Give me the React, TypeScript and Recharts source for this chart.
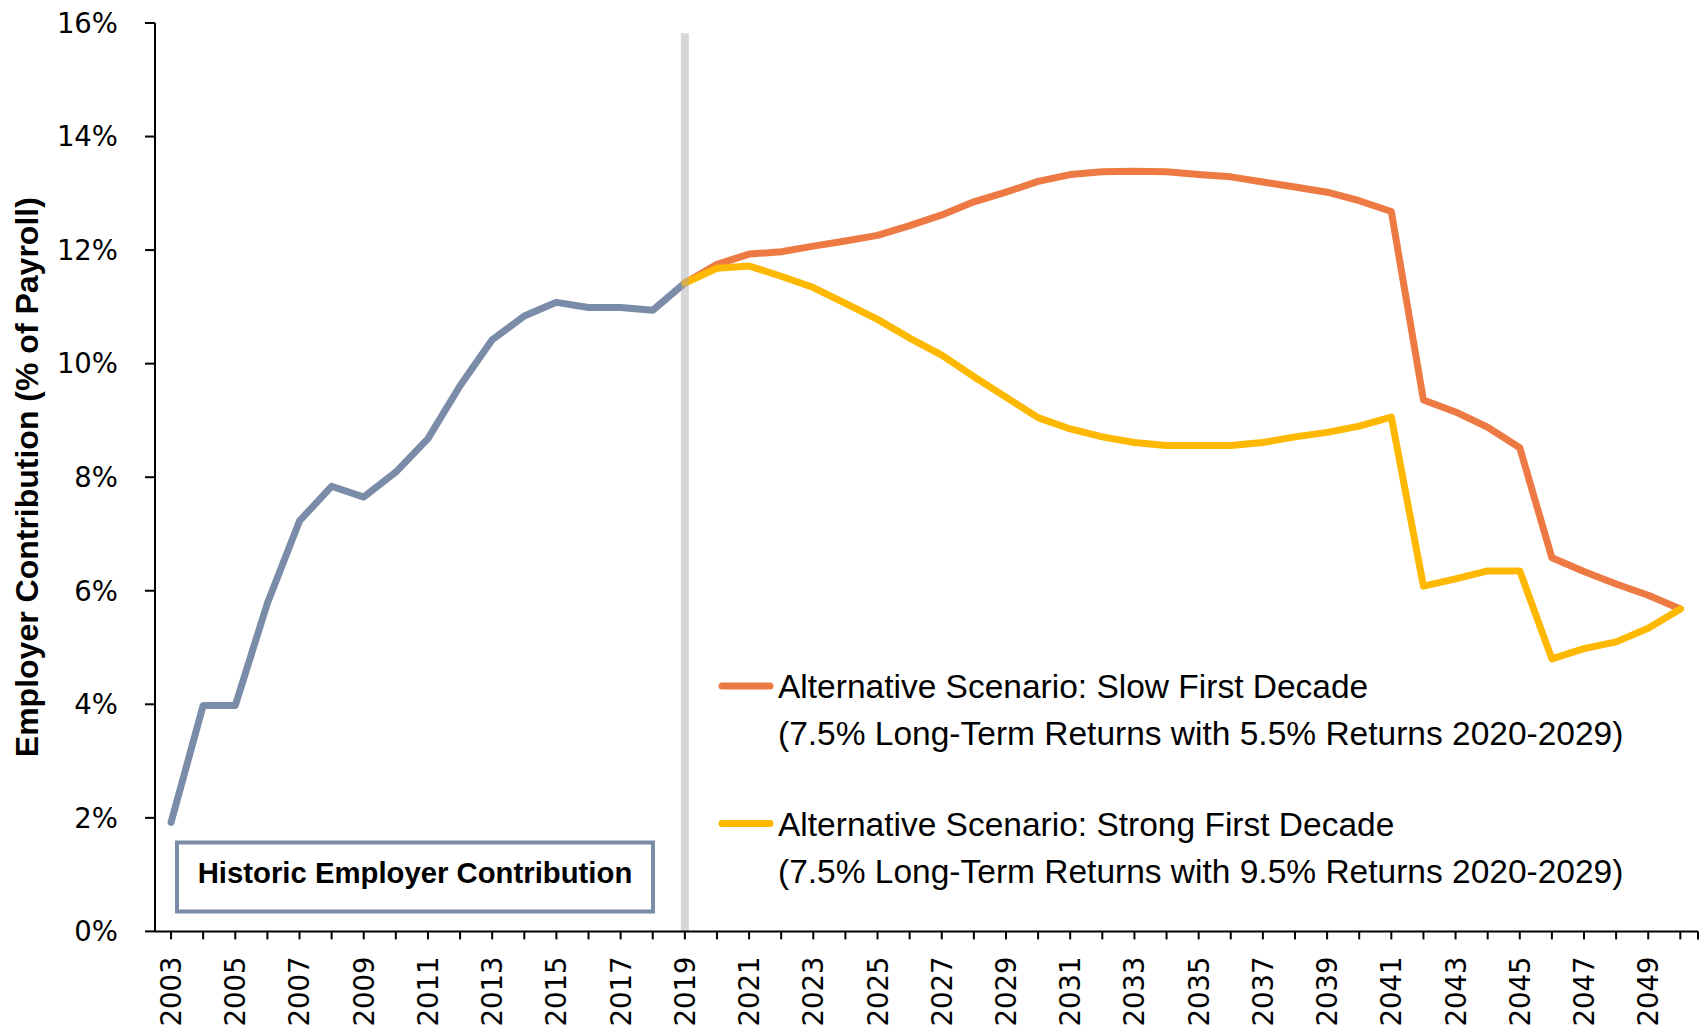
import React from 'react';
import { LineChart, Line, XAxis, YAxis, ReferenceLine, Legend } from 'recharts';

// ---- data ----
const years = [
  2003, 2004, 2005, 2006, 2007, 2008, 2009, 2010, 2011, 2012, 2013, 2014, 2015, 2016, 2017, 2018,
  2019, 2020, 2021, 2022, 2023, 2024, 2025, 2026, 2027, 2028, 2029, 2030, 2031, 2032, 2033, 2034,
  2035, 2036, 2037, 2038, 2039, 2040, 2041, 2042, 2043, 2044, 2045, 2046, 2047, 2048, 2049, 2050,
];

// 2003 - 2019
const historic = [1.92, 3.98, 3.98, 5.78, 7.23, 7.84, 7.65, 8.09, 8.68, 9.61, 10.42, 10.84, 11.08, 10.99, 10.99, 10.94, 11.42];

// 2019 - 2050
const slowFirstDecade = [
  11.42, 11.75, 11.93, 11.97, 12.07, 12.16, 12.26, 12.43, 12.62, 12.85, 13.02, 13.21, 13.33, 13.38, 13.39, 13.38,
  13.33, 13.29, 13.2, 13.11, 13.02, 12.87, 12.68, 9.36, 9.15, 8.88, 8.52, 6.58, 6.34, 6.12, 5.92, 5.68,
];
const strongFirstDecade = [
  11.42, 11.68, 11.72, 11.54, 11.34, 11.06, 10.78, 10.45, 10.15, 9.77, 9.41, 9.05, 8.85, 8.71, 8.61, 8.56,
  8.56, 8.56, 8.61, 8.71, 8.79, 8.9, 9.06, 6.08, 6.21, 6.35, 6.35, 4.8, 4.98, 5.1, 5.34, 5.68,
];

const projectionStartYear = 2019;
const historicLabel = 'Historic Employer Contribution';
const yAxisTitle = 'Employer Contribution (% of Payroll)';
const yTicks = [0, 2, 4, 6, 8, 10, 12, 14, 16];
const xLabelYears = [2003, 2005, 2007, 2009, 2011, 2013, 2015, 2017, 2019, 2021, 2023, 2025, 2027, 2029, 2031, 2033, 2035, 2037, 2039, 2041, 2043, 2045, 2047, 2049];
const xDomain: [number, number] = [2002.5, 2050.55];
const xTicks = [...years, xDomain[1]];

const seriesNames = {
  historic: 'Historic Employer Contribution',
  slow: 'Alternative Scenario: Slow First Decade',
  strong: 'Alternative Scenario: Strong First Decade',
};
const seriesSubtitles: Record<string, string> = {
  slow: '(7.5% Long-Term Returns with 5.5% Returns 2020-2029)',
  strong: '(7.5% Long-Term Returns with 9.5% Returns 2020-2029)',
};
const colors = {
  historic: '#7A8CA8',
  slow: '#EE7A43',
  strong: '#FFB800',
  divider: '#A6A6A6',
};

const data = years.map((year, i) => {
  const p = i - (projectionStartYear - years[0]);
  return {
    year,
    historic: i < historic.length ? historic[i] : null,
    slow: p >= 0 ? slowFirstDecade[p] : null,
    strong: p >= 0 ? strongFirstDecade[p] : null,
  };
});

const W = 1708;
const H = 1030;
const FONT_TICK = '"DejaVu Sans", Verdana, sans-serif';
const FONT_TEXT = '"Liberation Sans", Arial, sans-serif';
const LINE_W = 7;

const XTick = (props: any) => {
  const { x, y, payload } = props;
  if (!xLabelYears.includes(payload.value)) return null;
  return (
    <text
      x={x}
      y={y}
      transform={`rotate(-90, ${x}, ${y})`}
      textAnchor="end"
      dominantBaseline="central"
      fontSize={27.5}
      fontFamily={FONT_TICK}
      fill="#000"
    >
      {payload.value}
    </text>
  );
};

const YTitle = (props: any) => {
  const vb = props.viewBox || {};
  const cy = (vb.y ?? 23) + (vb.height ?? 908) / 2;
  const cx = 27.5;
  return (
    <text
      x={cx}
      y={cy}
      transform={`rotate(-90, ${cx}, ${cy})`}
      textAnchor="middle"
      dominantBaseline="central"
      fontSize={32}
      fontWeight="bold"
      fontFamily={FONT_TEXT}
      fill="#000"
    >
      {yAxisTitle}
    </text>
  );
};

const legendRows = [686, 823.5];

const Overlay = (props: any) => {
  const payload = (props.payload || []).filter((p: any) => p.dataKey === 'slow' || p.dataKey === 'strong');
  return (
    <svg width={W} height={H} style={{ position: 'absolute', left: 0, top: 0, overflow: 'visible' }}>
      {payload.map((p: any, i: number) => {
        const cy = legendRows[i];
        return (
          <g key={p.dataKey}>
            <line x1={722} x2={770} y1={cy} y2={cy} stroke={p.color} strokeWidth={LINE_W} strokeLinecap="round" />
            <text x={778} y={cy + 12} fontSize={33.5} fontFamily={FONT_TEXT} fill="#000">
              {p.value}
            </text>
            <text x={778} y={cy + 59} fontSize={33.5} fontFamily={FONT_TEXT} fill="#000">
              {seriesSubtitles[p.dataKey]}
            </text>
          </g>
        );
      })}
      <rect x={177} y={842.5} width={476} height={69} fill="#fff" stroke={colors.historic} strokeWidth={4} />
      <text x={415} y={883} textAnchor="middle" fontSize={29.3} fontWeight="bold" fontFamily={FONT_TEXT} fill="#000">
        {historicLabel}
      </text>
    </svg>
  );
};

export default function App() {
  return (
    <div style={{ position: 'absolute', left: 0, top: 0, width: W, height: H, background: '#fff' }}>
      <LineChart width={W} height={H} data={data} margin={{ top: 23, right: 10, bottom: 8.6, left: 0 }}>
        <XAxis
          dataKey="year"
          type="number"
          domain={xDomain}
          ticks={xTicks}
          interval={0}
          allowDataOverflow
          height={90}
          tickSize={8}
          tickMargin={17}
          axisLine={{ stroke: '#000', strokeWidth: 2 }}
          tickLine={{ stroke: '#000', strokeWidth: 2 }}
          tick={<XTick />}
        />
        <YAxis
          type="number"
          domain={[0, 16]}
          ticks={yTicks}
          interval={0}
          width={155}
          tickSize={10}
          tickMargin={27}
          tickFormatter={(v: number) => `${v}%`}
          axisLine={{ stroke: '#000', strokeWidth: 2 }}
          tickLine={{ stroke: '#000', strokeWidth: 2 }}
          tick={{ fontSize: 27.5, fontFamily: FONT_TICK, fill: '#000' }}
          label={<YTitle />}
        />
        <Line
          dataKey="historic"
          name={seriesNames.historic}
          stroke={colors.historic}
          strokeWidth={LINE_W}
          dot={false}
          activeDot={false}
          legendType="none"
          strokeLinejoin="round"
          strokeLinecap="round"
          isAnimationActive={false}
        />
        <Line
          dataKey="slow"
          name={seriesNames.slow}
          stroke={colors.slow}
          strokeWidth={LINE_W}
          dot={false}
          activeDot={false}
          strokeLinejoin="round"
          strokeLinecap="round"
          isAnimationActive={false}
        />
        <Line
          dataKey="strong"
          name={seriesNames.strong}
          stroke={colors.strong}
          strokeWidth={LINE_W}
          dot={false}
          activeDot={false}
          strokeLinejoin="round"
          strokeLinecap="round"
          isAnimationActive={false}
        />
        <ReferenceLine
          segment={[{ x: projectionStartYear, y: 0 }, { x: projectionStartYear, y: 15.82 }]}
          stroke={colors.divider}
          strokeOpacity={0.45}
          strokeWidth={8}
        />
        <Legend
          layout="vertical"
          align="center"
          verticalAlign="middle"
          content={<Overlay />}
          wrapperStyle={{ left: 0, top: 0, width: W, height: H, pointerEvents: 'none' }}
        />
      </LineChart>
    </div>
  );
}
